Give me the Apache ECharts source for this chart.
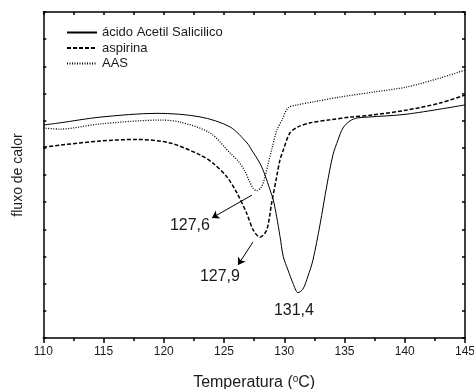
<!DOCTYPE html>
<html>
<head>
<meta charset="utf-8">
<script src="https://cdn.jsdelivr.net/npm/echarts@6/dist/echarts.min.js"></script>
<style>
html,body{margin:0;padding:0;background:#fff;}
#c{width:474px;height:389px;}
</style>
</head>
<body>
<div id="c"></div>
<script>
// Data (temperature °C, relative heat flow in arbitrary units 0..12)
var seriesNames = ['ácido Acetil Salicilico', 'aspirina', 'AAS'];
var acidoT = [110.00,111.39,114.71,119.44,123.01,125.50,126.91,127.29,127.98,128.40,128.82,129.09,129.37,129.65,129.92,130.31,130.72,131.14,131.55,131.97,132.38,132.96,133.54,134.04,134.46,134.87,135.45,136.04,136.87,140.18,145.00];
var acidoQ = [7.84,7.92,8.13,8.27,8.14,7.77,7.18,6.92,6.43,6.00,5.45,5.08,4.46,3.73,2.99,2.50,2.02,1.67,1.80,2.28,2.87,4.16,5.63,6.74,7.29,7.73,7.99,8.10,8.13,8.24,8.58];
var aspirinaT = [110.00,111.39,114.71,117.78,120.51,123.01,124.08,125.24,126.07,126.88,127.43,127.98,128.54,128.95,129.37,129.64,129.92,130.47,131.14,132.14,133.79,135.45,137.36,140.18,142.92,145.00];
var aspirinaQ = [7.02,7.10,7.25,7.31,7.18,6.74,6.44,5.93,5.34,4.59,3.97,3.71,3.97,4.96,5.94,6.55,6.92,7.55,7.77,7.92,8.03,8.13,8.21,8.39,8.65,8.94];
var aasT = [110.00,111.39,114.71,119.68,121.34,123.83,125.50,126.20,126.73,127.10,127.40,127.71,128.12,128.40,128.67,128.95,129.39,129.81,130.31,131.05,132.38,134.62,137.36,140.18,142.92,145.00];
var aasQ = [7.73,7.69,7.88,8.02,7.95,7.55,6.81,6.50,6.15,5.78,5.52,5.42,5.57,5.94,6.43,6.92,7.66,8.02,8.47,8.58,8.69,8.87,9.05,9.24,9.57,9.86];
var xTicks = [110,115,120,125,130,135,140,145];
var peakLabels = ['127,6', '127,9', '131,4'];
var peakLabelPos = [[122.17,4.14],[124.66,2.25],[130.80,1.00]];
var arrowAAS = [[127.32,5.26],[124.0,4.42]];
var arrowAspirina = [[127.40,3.53],[126.16,2.69]];

function pairs(t, q){ return t.map(function(v,i){ return [v, q[i]]; }); }

var font = '"Liberation Sans", Arial, sans-serif';
var txt = '#1a1a1a';
var chart = echarts.init(document.getElementById('c'));

var labelStyle = {show:true, position:'inside', fontSize:16, color:txt, fontFamily:font};

chart.setOption({
  animation:false,
  backgroundColor:'#fff',
  grid:{left:43.3, right:9, top:12, bottom:51, containLabel:false, outerBoundsMode:'none'},
  legend:{
    orient:'vertical', left:66, top:26, padding:0, itemWidth:30, itemHeight:14, itemGap:2.5,
    textStyle:{fontSize:13, color:txt, fontFamily:font},
    itemStyle:{color:'rgba(0,0,0,0)', borderColor:'rgba(0,0,0,0)', borderWidth:0, opacity:0},
    data:seriesNames
  },
  xAxis:[{
    type:'value', min:110, max:145, interval:5, position:'bottom',
    axisLine:{onZero:false, lineStyle:{color:'#000', width:1.5}},
    axisTick:{inside:false, length:5, lineStyle:{color:'#000', width:1.5}},
    minorTick:{show:true, splitNumber:2, length:3, lineStyle:{color:'#000', width:1.5}},
    axisLabel:{fontSize:12, color:txt, fontFamily:font, margin:8,
      customValues: xTicks},
    splitLine:{show:false},
    name:'Temperatura ({s|o}C)', nameLocation:'middle', nameGap:36,
    nameTextStyle:{fontSize:16, color:txt, fontFamily:font,
      rich:{s:{fontSize:10, color:txt, fontFamily:font, verticalAlign:'top', padding:[0,0,7,0]}}}
  },{
    type:'value', min:110, max:145, interval:2.5, position:'top',
    axisLine:{onZero:false, lineStyle:{color:'#000', width:1.5}},
    axisTick:{inside:true, length:3, lineStyle:{color:'#000', width:1.5}},
    axisLabel:{show:false}, splitLine:{show:false}
  }],
  yAxis:[{
    type:'value', min:0, max:12, interval:1, position:'left',
    axisLine:{show:true, onZero:false, lineStyle:{color:'#000', width:1.5}},
    axisTick:{show:true, inside:true, length:3, lineStyle:{color:'#000', width:1.5}},
    axisLabel:{show:false}, splitLine:{show:false},
    name:'fluxo de calor', nameLocation:'middle', nameGap:18, nameRotate:90,
    nameTextStyle:{fontSize:14, color:txt, fontFamily:font}
  },{
    type:'value', min:0, max:12, interval:1, position:'right',
    axisLine:{show:true, onZero:false, lineStyle:{color:'#000', width:1.5}},
    axisTick:{show:true, inside:true, length:3, lineStyle:{color:'#000', width:1.5}},
    axisLabel:{show:false}, splitLine:{show:false}
  }],
  series:[{
    name:seriesNames[0], type:'line', smooth:0.3, symbol:'none',
    data:pairs(acidoT, acidoQ),
    lineStyle:{color:'#000', width:1, type:'solid'}, itemStyle:{color:'#000'},
    markPoint:{symbol:'circle', symbolSize:0, silent:true, label:labelStyle,
      data:[{coord:peakLabelPos[2], value:peakLabels[2]}]}
  },{
    name:seriesNames[1], type:'line', smooth:0.3, symbol:'none',
    data:pairs(aspirinaT, aspirinaQ),
    lineStyle:{color:'#000', width:1.5, type:[4,2]}, itemStyle:{color:'#000'},
    markPoint:{symbol:'circle', symbolSize:0, silent:true, label:labelStyle,
      data:[{coord:peakLabelPos[1], value:peakLabels[1]}]},
    markLine:{silent:true, symbol:['none','arrow'], symbolSize:7, label:{show:false},
      lineStyle:{color:'#000', width:1, type:'solid'},
      data:[[{coord:arrowAspirina[0]},{coord:arrowAspirina[1]}]]}
  },{
    name:seriesNames[2], type:'line', smooth:0.3, symbol:'none',
    data:pairs(aasT, aasQ),
    lineStyle:{color:'#000', width:1.3, type:[1,1.5]}, itemStyle:{color:'#000'},
    markPoint:{symbol:'circle', symbolSize:0, silent:true, label:labelStyle,
      data:[{coord:peakLabelPos[0], value:peakLabels[0]}]},
    markLine:{silent:true, symbol:['none','arrow'], symbolSize:7, label:{show:false},
      lineStyle:{color:'#000', width:1, type:'solid'},
      data:[[{coord:arrowAAS[0]},{coord:arrowAAS[1]}]]}
  }]
});
</script>
</body>
</html>
